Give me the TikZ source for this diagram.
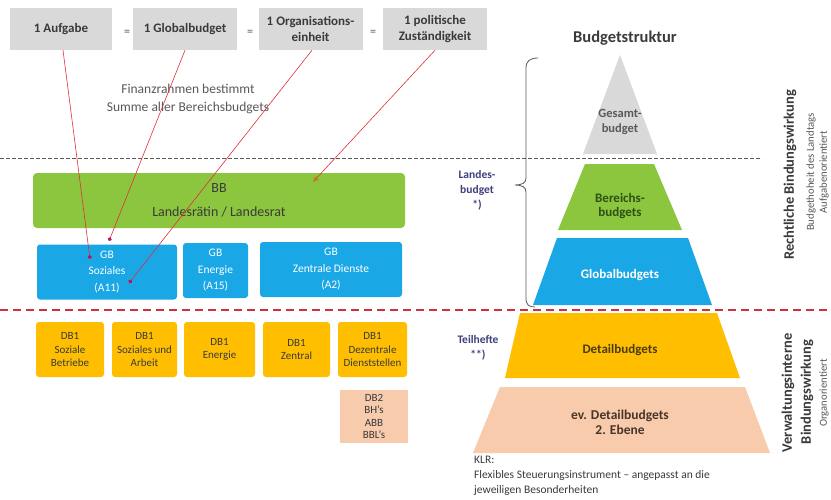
\documentclass[tikz,border=0pt]{standalone}
\usepackage{fontspec}
\setmainfont{Carlito}
\usetikzlibrary{arrows.meta}
\definecolor{boxgray}{HTML}{D9D9D9}
\definecolor{txtdark}{HTML}{3A3A3A}
\definecolor{txtgray}{HTML}{595959}
\definecolor{bbgreen}{HTML}{8CC63F}
\definecolor{gbblue}{HTML}{1AA7E6}
\definecolor{dborange}{HTML}{FFBF00}
\definecolor{dbpeach}{HTML}{F7CBAC}
\definecolor{arrred}{HTML}{E0303A}
\definecolor{dotred}{HTML}{C0105A}
\definecolor{tipbrown}{HTML}{D07020}
\definecolor{reddash}{HTML}{D03040}
\definecolor{purpletxt}{HTML}{3F3F7F}
\definecolor{greentxt}{HTML}{2F4F16}
\definecolor{browntxt}{HTML}{4A3A10}
\definecolor{peachtxt}{HTML}{4A3428}
\begin{document}
\begin{tikzpicture}[x=1pt,y=-1pt,
  topbox/.style={fill=boxgray, minimum width=104pt, minimum height=42pt, inner sep=0pt, align=center, font=\fontsize{13}{16}\selectfont\bfseries, text=txtdark},
  eqsign/.style={font=\fontsize{12}{14}\selectfont, text=txtgray, inner sep=0pt},
  bbbox/.style={fill=bbgreen, rounded corners=4pt, inner sep=0pt, align=center, font=\fontsize{14}{24}\selectfont, text=txtdark, minimum height=55pt},
  gbbox/.style={fill=gbblue, rounded corners=3pt, inner sep=0pt, align=center, font=\fontsize{11.5}{16.5}\selectfont, text=white, minimum height=55pt},
  dbbox/.style={fill=dborange, rounded corners=3pt, inner sep=0pt, align=center, font=\fontsize{11}{13.5}\selectfont, text=txtdark, minimum height=55pt},
  dbtwo/.style={fill=dbpeach, inner sep=0pt, align=center, font=\fontsize{11}{12.5}\selectfont, text=txtdark, minimum height=53pt, minimum width=68pt},
  redarrow/.style={draw=arrred, line width=0.6pt},
  dottip/.style={-{Circle[length=4pt,width=4pt,color=dotred,fill=dotred]}},
  pyrtext/.style={font=\fontsize{13}{14}\selectfont\bfseries, align=center, inner sep=0pt},
  sidetext/.style={font=\fontsize{11.5}{15}\selectfont\bfseries, align=center, text=purpletxt, inner sep=0pt},
  vbold/.style={rotate=90, font=\fontsize{14.5}{16}\selectfont\bfseries, text=txtdark, inner sep=0pt},
  vthin/.style={rotate=90, font=\fontsize{10.7}{12}\selectfont, text=txtgray, inner sep=0pt},
  bracestyle/.style={draw=txtgray, line width=0.8pt}
]
\useasboundingbox (0,0) rectangle (831,499);
\fill[white] (0,0) rectangle (831,499);

% top row
\node[topbox, minimum width=102pt] (aufg) at (61,29) {1 Aufgabe};
\node[topbox] (glob) at (185,29) {1 Globalbudget};
\node[topbox] (org) at (310.5,29) {1 Organisations-\\einheit};
\node[topbox] (zust) at (435,29) {1 politische\\Zuständigkeit};
\node[eqsign] (eq1) at (127,33) {=};
\node[eqsign] (eq2) at (250,33) {=};
\node[eqsign] (eq3) at (373,33) {=};

\node[font=\fontsize{13.5}{18}\selectfont, text=txtgray, align=center, inner sep=0pt] (fin) at (188,99) {Finanzrahmen bestimmt\\Summe aller Bereichsbudgets};

% dashed separators
\draw[txtgray, line width=0.7pt, dash pattern=on 3.5pt off 2.5pt] (0,158) -- (762,158);
\draw[reddash, line width=1.1pt, dash pattern=on 8pt off 5pt] (0,310) -- (831,310);

% BB and GB
\node[bbbox, minimum width=372pt] (bb) at (219,200.5) {BB\\Landesrätin / Landesrat};
\node[gbbox, minimum width=140pt] (gbsoz) at (107,272) {GB\\Soziales\\(A11)};
\node[gbbox, minimum width=65pt] (gben) at (215.5,270.5) {GB\\Energie\\(A15)};
\node[gbbox, minimum width=142pt] (gbzd) at (331,269.5) {GB\\Zentrale Dienste\\(A2)};

% DB1
\node[dbbox, minimum width=68pt] (db1) at (70,349.5) {DB1\\Soziale\\Betriebe};
\node[dbbox, minimum width=65pt] (db2) at (144.5,349.5) {DB1\\Soziales und\\Arbeit};
\node[dbbox, minimum width=71pt] (db3) at (219.5,349.5) {DB1\\Energie};
\node[dbbox, minimum width=67pt] (db4) at (296.5,349.5) {DB1\\Zentral};
\node[dbbox, minimum width=69pt] (db5) at (372.5,349.5) {DB1\\Dezentrale\\Dienststellen};
\node[dbtwo] (dbz) at (374,416.5) {DB2\\BH's\\ABB\\BBL's};

% red arrows
\coordinate (d1) at (90,259);
\coordinate (d2) at (109,241);
\coordinate (d3) at (129,283);
\coordinate (d4) at (313,182);
\draw[redarrow, dottip] ([xshift=2pt]aufg.south) -- (d1);
\draw[redarrow, dottip] (glob.south) -- (d2);
\draw[redarrow, dottip] ([xshift=1.5pt]org.south) -- (d3);
\draw[redarrow, -{Stealth[length=6pt,width=5pt,color=tipbrown]}] (zust.south) -- (d4);

% pyramid
\node[font=\fontsize{16.5}{18}\selectfont\bfseries, text=txtdark, inner sep=0pt] (title) at (625,38) {Budgetstruktur};
\fill[boxgray] (620,55) -- (657,154) -- (583,154) -- cycle;
\fill[bbgreen] (585,164) -- (654,164) -- (682,230) -- (558,230) -- cycle;
\fill[gbblue] (557,238) -- (688,238) -- (712,305) -- (533,305) -- cycle;
\fill[dborange] (520,313) -- (717,313) -- (740,378) -- (505,378) -- cycle;
\fill[dbpeach] (500,387) -- (745,387) -- (770,453) -- (473,453) -- cycle;
\node[pyrtext, text=txtgray, font=\fontsize{12.5}{15}\selectfont\bfseries] (pg) at (620,122) {Gesamt-\\budget};
\node[pyrtext, text=greentxt] (pb) at (620,206) {Bereichs-\\budgets};
\node[pyrtext, text=white] (pgl) at (620,275) {Globalbudgets};
\node[pyrtext, text=browntxt] (pd) at (620,350) {Detailbudgets};
\node[pyrtext, text=peachtxt, font=\fontsize{13.5}{15}\selectfont\bfseries] (pe) at (620,422) {ev. Detailbudgets\\2. Ebene};

% brace and side labels
\draw[bracestyle] (538,58) .. controls (530,58) and (526,61) .. (526,68) -- (526,178) .. controls (526,183) and (522,185) .. (515,185) .. controls (522,185) and (526,187) .. (526,192) -- (526,298) .. controls (526,305) and (529,307) .. (535,307);
\node[sidetext] (lb) at (477,190) {Landes-\\budget\\*)};
\node[sidetext] (th) at (478,348) {Teilhefte\\**)};

\node[font=\fontsize{11.5}{15}\selectfont, text=txtdark, align=left, anchor=north west, inner sep=0pt] (klr) at (474,456) {KLR:\\Flexibles Steuerungsinstrument -- angepasst an die\\jeweiligen Besonderheiten};

% vertical labels
\node[vbold] (v1) at (790,175) {Rechtliche Bindungswirkung};
\node[vthin] (v2) at (811,172) {Budgethoheit des Landtags};
\node[vthin] (v3) at (824,172) {Aufgabenorientiert};
\node[vbold] (v4) at (788,393) {Verwaltungsinterne};
\node[vbold] (v5) at (807,392) {Bindungswirkung};
\node[vthin] (v6) at (824,393) {Organorientiert};
\end{tikzpicture}
\end{document}
